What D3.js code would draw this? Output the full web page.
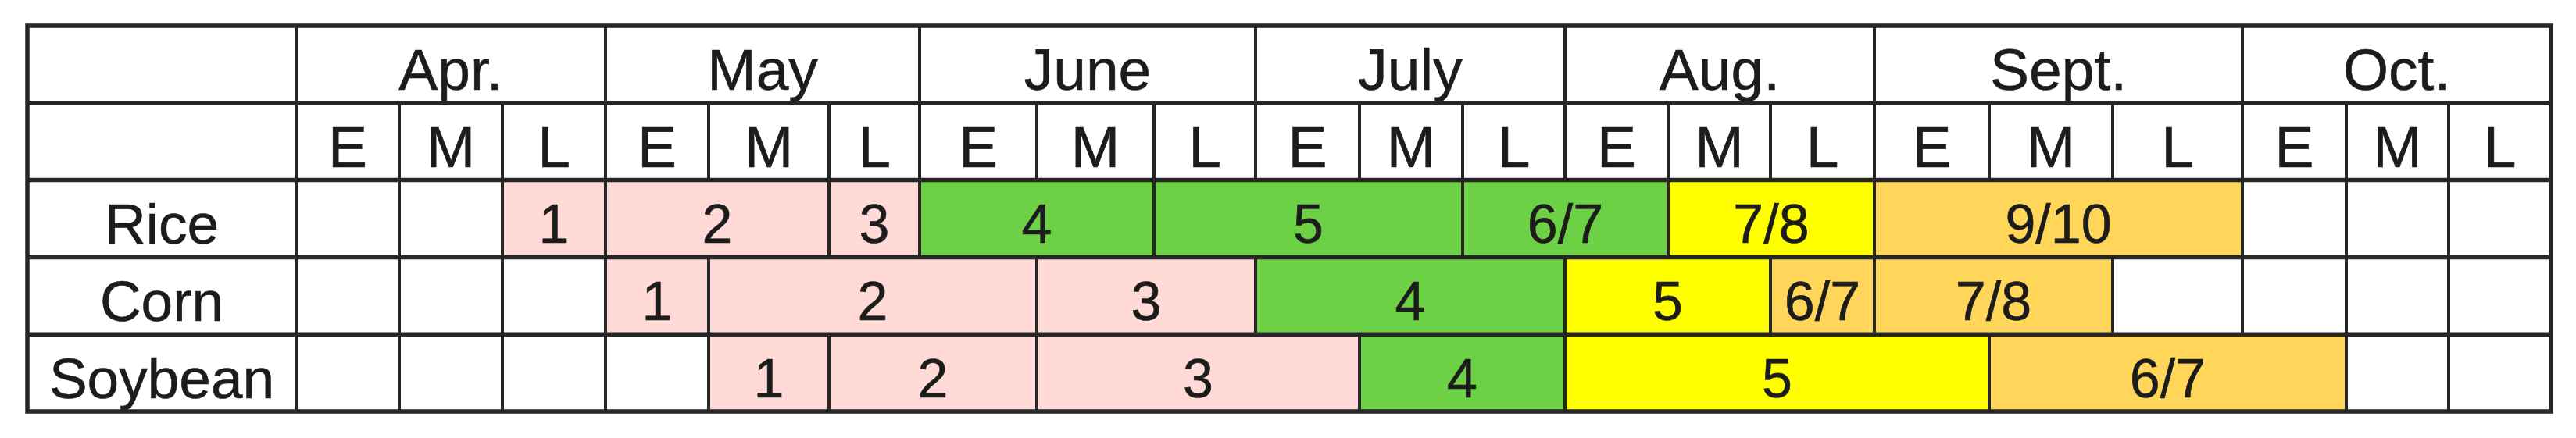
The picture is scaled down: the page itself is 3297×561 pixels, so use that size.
<!DOCTYPE html>
<html>
<head>
<meta charset="utf-8">
<script src="https://cdn.jsdelivr.net/npm/d3@7"></script>
<style>
  html, body { margin: 0; padding: 0; background: #fff; }
  text { font-family: "Liberation Sans", Arial, Helvetica, sans-serif; fill: #1c1c1c; stroke: #1c1c1c; stroke-width: 0.6px; }
</style>
</head>
<body>
<div id="chart"></div>
<script>
// table data
const months = ["Apr.", "May", "June", "July", "Aug.", "Sept.", "Oct."];
const thirds = ["E", "M", "L"];
const crops = ["Rice", "Corn", "Soybean"];

// stage label, first period, last period, phase
const riceStages = [
  ["1", "Apr. L", "Apr. L", "early"],
  ["2", "May E", "May M", "early"],
  ["3", "May L", "May L", "early"],
  ["4", "June E", "June M", "growth"],
  ["5", "June L", "July M", "growth"],
  ["6/7", "July L", "Aug. E", "growth"],
  ["7/8", "Aug. M", "Aug. L", "heading"],
  ["9/10", "Sept. E", "Sept. L", "ripening"]
];
const cornStages = [
  ["1", "May E", "May E", "early"],
  ["2", "May M", "June E", "early"],
  ["3", "June M", "June L", "early"],
  ["4", "July E", "July L", "growth"],
  ["5", "Aug. E", "Aug. M", "heading"],
  ["6/7", "Aug. L", "Aug. L", "ripening"],
  ["7/8", "Sept. E", "Sept. M", "ripening"]
];
const soybeanStages = [
  ["1", "May M", "May M", "early"],
  ["2", "May L", "June E", "early"],
  ["3", "June M", "July E", "early"],
  ["4", "July M", "July L", "growth"],
  ["5", "Aug. E", "Sept. E", "heading"],
  ["6/7", "Sept. M", "Oct. E", "ripening"]
];
const stagesByCrop = { Rice: riceStages, Corn: cornStages, Soybean: soybeanStages };

const phaseColor = {
  early: "#ffdad7",
  growth: "#6cd144",
  heading: "#ffff00",
  ripening: "#ffd659"
};

// layout
const width = 3297;
const height = 561;
const tableLeft = 35, labelRight = 379, tableRight = 3265;
const tableTop = 33, tableBottom = 527;
// relative widths of the ten-day columns as drawn in the original table
const colWeights = [132, 132, 132, 132, 154, 116, 150, 150, 130, 133, 132, 131, 132, 131, 133, 147, 158, 166, 133, 131, 131];
const lineColor = "#262626";

const periods = months.flatMap((m) => thirds.map((t) => m + " " + t));

// piecewise scale from period index to x
const cum = [0];
colWeights.forEach((w) => cum.push(cum[cum.length - 1] + w));
const total = cum[cum.length - 1];
const x = d3
  .scaleLinear()
  .domain(d3.range(periods.length + 1))
  .range(cum.map((c) => labelRight + (c / total) * (tableRight - labelRight)));

const rowKeys = ["month", "period"].concat(crops);
const y = d3.scaleBand().domain(rowKeys).range([tableTop, tableBottom]).padding(0);
const rh = y.bandwidth();

const headFont = 75;
const bodyFont = 70;
const cropFont = 73;
const baseY = (key, fs) => y(key) + rh / 2 + fs * 0.36 + 6;

const svg = d3
  .select("#chart")
  .append("svg")
  .attr("width", width)
  .attr("height", height);

svg.append("rect").attr("width", width).attr("height", height).attr("fill", "#fff");

// build cells: header months, header thirds, crop rows (stages + empty periods)
const cells = [];
months.forEach((m, i) => {
  cells.push({ row: "month", s: i * 3, e: i * 3 + 2, label: m, fill: "#fff", fs: headFont });
});
periods.forEach((p, i) => {
  cells.push({ row: "period", s: i, e: i, label: thirds[i % 3], fill: "#fff", fs: headFont });
});
crops.forEach((crop) => {
  const covered = new Set();
  stagesByCrop[crop].forEach(([label, from, to, phase]) => {
    const s = periods.indexOf(from);
    const e = periods.indexOf(to);
    for (let k = s; k <= e; k++) covered.add(k);
    cells.push({ row: crop, s, e, label, fill: phaseColor[phase], fs: bodyFont });
  });
  periods.forEach((p, i) => {
    if (!covered.has(i)) cells.push({ row: crop, s: i, e: i, label: "", fill: "#fff", fs: bodyFont });
  });
});

const cell = svg
  .append("g")
  .selectAll("g")
  .data(cells)
  .enter()
  .append("g");

cell
  .append("rect")
  .attr("x", (d) => x(d.s))
  .attr("y", (d) => y(d.row))
  .attr("width", (d) => x(d.e + 1) - x(d.s))
  .attr("height", rh)
  .attr("fill", (d) => d.fill)
  .attr("stroke", lineColor)
  .attr("stroke-width", 4);

cell
  .append("text")
  .attr("x", (d) => (x(d.s) + x(d.e + 1)) / 2)
  .attr("y", (d) => baseY(d.row, d.fs))
  .attr("text-anchor", "middle")
  .style("font-size", (d) => d.fs + "px")
  .text((d) => d.label);

// row label column
const labels = svg.append("g");
labels
  .selectAll("rect")
  .data(rowKeys)
  .enter()
  .append("rect")
  .attr("x", tableLeft)
  .attr("y", (d) => y(d))
  .attr("width", labelRight - tableLeft)
  .attr("height", rh)
  .attr("fill", "#fff")
  .attr("stroke", lineColor)
  .attr("stroke-width", 4);

labels
  .selectAll("text")
  .data(crops)
  .enter()
  .append("text")
  .attr("x", (tableLeft + labelRight) / 2)
  .attr("y", (d) => baseY(d, cropFont))
  .attr("text-anchor", "middle")
  .style("font-size", cropFont + "px")
  .text((d) => d);

// heavier horizontal rules and outer frame
svg
  .append("g")
  .selectAll("line")
  .data(rowKeys.slice(1))
  .enter()
  .append("line")
  .attr("x1", tableLeft)
  .attr("x2", tableRight)
  .attr("y1", (d) => y(d))
  .attr("y2", (d) => y(d))
  .attr("stroke", lineColor)
  .attr("stroke-width", 5.5);

svg
  .append("rect")
  .attr("x", tableLeft)
  .attr("y", tableTop)
  .attr("width", tableRight - tableLeft)
  .attr("height", tableBottom - tableTop)
  .attr("fill", "none")
  .attr("stroke", lineColor)
  .attr("stroke-width", 5.5);
</script>
</body>
</html>
